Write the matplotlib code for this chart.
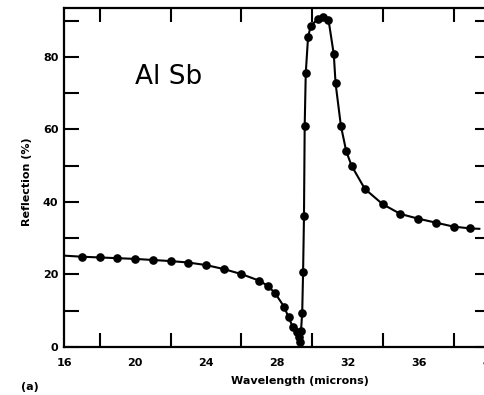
import matplotlib
matplotlib.use("Agg")
import matplotlib.pyplot as plt

# Data
wavelength = [17, 18, 19, 20, 21, 22, 23, 24, 25, 26, 27, 27.5, 27.9, 28.4, 28.65,
              28.9, 29.1, 29.25, 29.3, 29.35, 29.42, 29.47, 29.52, 29.56, 29.62,
              29.75, 29.9, 30.3, 30.6, 30.9, 31.2, 31.3, 31.6, 31.9, 32.2, 32.95,
              33.95, 34.95, 35.95, 36.95, 37.95, 38.9]
reflection = [24.9, 24.7, 24.5, 24.3, 24.0, 23.7, 23.3, 22.6, 21.5, 20.1, 18.3, 16.8,
              14.8, 11.1, 8.2, 5.4, 4.2, 2.7, 1.4, 4.3, 9.5, 20.7, 36.0, 61.0, 75.5,
              85.5, 88.5, 90.5, 91.0, 90.3, 80.7, 72.7, 61.0, 54.0, 50.0, 43.6,
              39.4, 36.7, 35.4, 34.3, 33.2, 32.7]
# curve end values (line extends beyond the measured points)
curve_start = (16.0, 25.2)
curve_end = (39.4, 32.6)

xtick_labels = [16, 20, 24, 28, 32, 36, 40]
ytick_labels = [0, 20, 40, 60, 80]

fig = plt.figure(figsize=(4.85, 3.95), dpi=100)
ax = fig.add_axes([64/485, 1-347/395, 426/485, 339/395])

line_x = [curve_start[0]] + wavelength + [curve_end[0]]
line_y = [curve_start[1]] + reflection + [curve_end[1]]
ax.plot(line_x, line_y, color="black", lw=1.5, zorder=2)
ax.plot(wavelength, reflection, "o", color="black", ms=5.2, zorder=3)

ax.set_xlim(16, 40)
ax.set_ylim(0, 93.5)

ax.set_xticks(xtick_labels)
ax.set_xticks([t for t in range(18, 40, 2)], minor=True)
ax.set_yticks(ytick_labels)
ax.set_yticks([t for t in range(10, 100, 20)], minor=True)

ax.tick_params(which="both", direction="in", top=True, right=True, width=1.5)
ax.tick_params(axis="x", which="major", length=0, pad=8)
ax.tick_params(axis="x", which="minor", length=10)
ax.tick_params(axis="y", which="both", length=11, pad=4)

fnt = dict(family="DejaVu Sans", weight="bold", size=8)
ax.set_xticklabels([str(v) for v in xtick_labels], **fnt)
ax.set_yticklabels([str(v) for v in ytick_labels], **fnt)

for s in ax.spines.values():
    s.set_linewidth(1.6)

ax.set_xlabel("Wavelength (microns)", fontsize=8, fontweight="bold")
ax.xaxis.set_label_coords((300-64)/426, -(376-347)/339)
ax.set_ylabel("Reflection (%)", fontsize=8, fontweight="bold")
ax.yaxis.set_label_coords(-(64-32)/426, (347-182)/339)

ax.text(21.9, 74.5, "Al Sb", fontsize=19, ha="center", va="center")
fig.text(30/485, 1-387/395, "(a)", fontsize=8, fontweight="bold", ha="center", va="center")

fig.savefig("out.png", dpi=100)
